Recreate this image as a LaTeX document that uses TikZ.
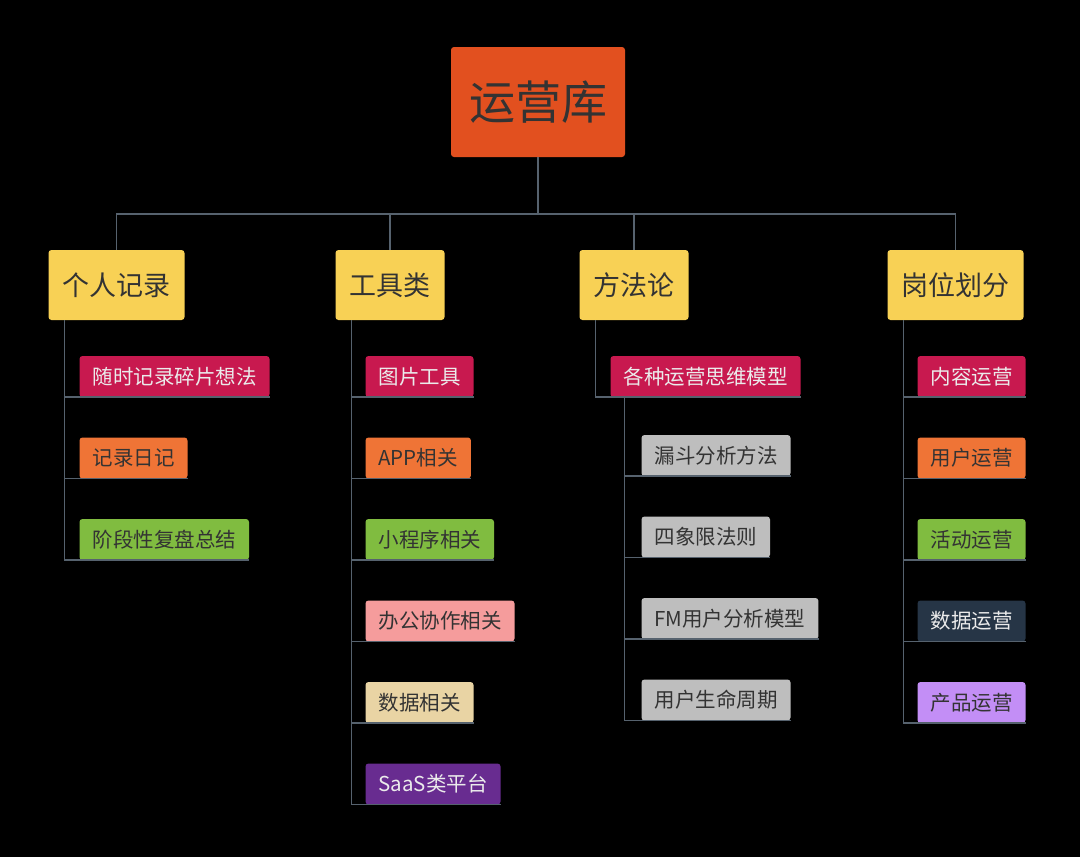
\documentclass[tikz,border=0pt]{standalone}
\usepackage{fontspec}
\setmainfont{Noto Sans CJK SC}
\usepackage{xcolor}
\usetikzlibrary{positioning, calc}

\definecolor{rootred}{HTML}{E2501F}
\definecolor{topyellow}{HTML}{F8D155}
\definecolor{crimson}{HTML}{C8194F}
\definecolor{tangerine}{HTML}{EF7436}
\definecolor{leafgreen}{HTML}{80BC40}
\definecolor{rosepink}{HTML}{F59C9C}
\definecolor{sand}{HTML}{E9D4A4}
\definecolor{grape}{HTML}{682C90}
\definecolor{silver}{HTML}{BEBEBE}
\definecolor{navy}{HTML}{263546}
\definecolor{lilac}{HTML}{C38EF6}
\definecolor{wire}{HTML}{56626E}
\definecolor{inkdark}{HTML}{333333}

\begin{document}
\begin{tikzpicture}[
    x=1pt, y=-1pt,
    root/.style={rectangle, fill=rootred, rounded corners=3pt, inner xsep=18pt,
        minimum height=110pt, text=inkdark, font=\fontsize{46}{50}\selectfont},
    topic/.style={rectangle, fill=topyellow, rounded corners=3pt, inner xsep=14pt,
        minimum height=70pt, text=inkdark, font=\fontsize{27}{30}\selectfont},
    leaf/.style={rectangle, rounded corners=3pt, inner xsep=13pt, minimum height=41pt,
        text=inkdark, font=\fontsize{20.5}{24}\selectfont, anchor=south west},
    light/.style={text=white!92!black},
    link/.style={draw=wire, line width=1.5pt}
]
\fill[black] (0,0) rectangle (1080,857);

% root and main topics
\node[root] (root) at (538,102) {运营库};
\node[topic] (t1) at (116.5,285) {个人记录};
\node[topic] (t2) at (390,285) {工具类};
\node[topic] (t3) at (634,285) {方法论};
\node[topic] (t4) at (955.5,285) {岗位划分};

\coordinate (bar) at (538,214);
\draw[link] (root.south) -- (bar);
\draw[link] (t1.north) -- (t1.north |- bar) -- (t4.north |- bar) -- (t4.north);
\draw[link] (t2.north) -- (t2.north |- bar);
\draw[link] (t3.north) -- (t3.north |- bar);

% spines under the topics
\coordinate (s1) at ($(t1.south west)+(16,0)$);
\coordinate (s2) at ($(t2.south west)+(16,0)$);
\coordinate (s3) at ($(t3.south west)+(16,0)$);
\coordinate (s4) at ($(t4.south west)+(16,0)$);

% personal notes
\node[leaf, fill=crimson, light] (a1) at ($(s1)+(15,77)$) {随时记录碎片想法};
\node[leaf, fill=tangerine] (a2) at ($(a1.south west)+(0,81.5)$) {记录日记};
\node[leaf, fill=leafgreen] (a3) at ($(a2.south west)+(0,81.5)$) {阶段性复盘总结};

% tools
\node[leaf, fill=crimson, light] (b1) at ($(s2)+(14,77)$) {图片工具};
\node[leaf, fill=tangerine] (b2) at ($(b1.south west)+(0,81.5)$) {APP相关};
\node[leaf, fill=leafgreen] (b3) at ($(b2.south west)+(0,81.5)$) {小程序相关};
\node[leaf, fill=rosepink] (b4) at ($(b3.south west)+(0,81.5)$) {办公协作相关};
\node[leaf, fill=sand] (b5) at ($(b4.south west)+(0,81.5)$) {数据相关};
\node[leaf, fill=grape, light] (b6) at ($(b5.south west)+(0,81.5)$) {SaaS类平台};

% methods
\node[leaf, fill=crimson, light] (c1) at ($(s3)+(15,77)$) {各种运营思维模型};
\coordinate (s5) at ($(c1.south west)+(14,0)$);
\node[leaf, fill=silver] (c2) at ($(s5)+(17,79)$) {漏斗分析方法};
\node[leaf, fill=silver] (c3) at ($(c2.south west)+(0,81.5)$) {四象限法则};
\node[leaf, fill=silver] (c4) at ($(c3.south west)+(0,81.5)$) {FM用户分析模型};
\node[leaf, fill=silver] (c5) at ($(c4.south west)+(0,81.5)$) {用户生命周期};

% roles
\node[leaf, fill=crimson, light] (d1) at ($(s4)+(14,77)$) {内容运营};
\node[leaf, fill=tangerine] (d2) at ($(d1.south west)+(0,81.5)$) {用户运营};
\node[leaf, fill=leafgreen] (d3) at ($(d2.south west)+(0,81.5)$) {活动运营};
\node[leaf, fill=navy, light] (d4) at ($(d3.south west)+(0,81.5)$) {数据运营};
\node[leaf, fill=lilac] (d5) at ($(d4.south west)+(0,81.5)$) {产品运营};

% spines and underlines
\draw[link] (s1) -- (a3.south west -| s1);
\foreach \k in {a1,a2,a3} \draw[link] (\k.south west -| s1) -- (\k.south east);
\draw[link] (s2) -- (b6.south west -| s2);
\foreach \k in {b1,b2,b3,b4,b5,b6} \draw[link] (\k.south west -| s2) -- (\k.south east);
\draw[link] (s3) -- (c1.south west -| s3) -- (c1.south east);
\draw[link] (s5) -- (c5.south west -| s5);
\foreach \k in {c2,c3,c4,c5} \draw[link] (\k.south west -| s5) -- (\k.south east);
\draw[link] (s4) -- (d5.south west -| s4);
\foreach \k in {d1,d2,d3,d4,d5} \draw[link] (\k.south west -| s4) -- (\k.south east);
\end{tikzpicture}
\end{document}
